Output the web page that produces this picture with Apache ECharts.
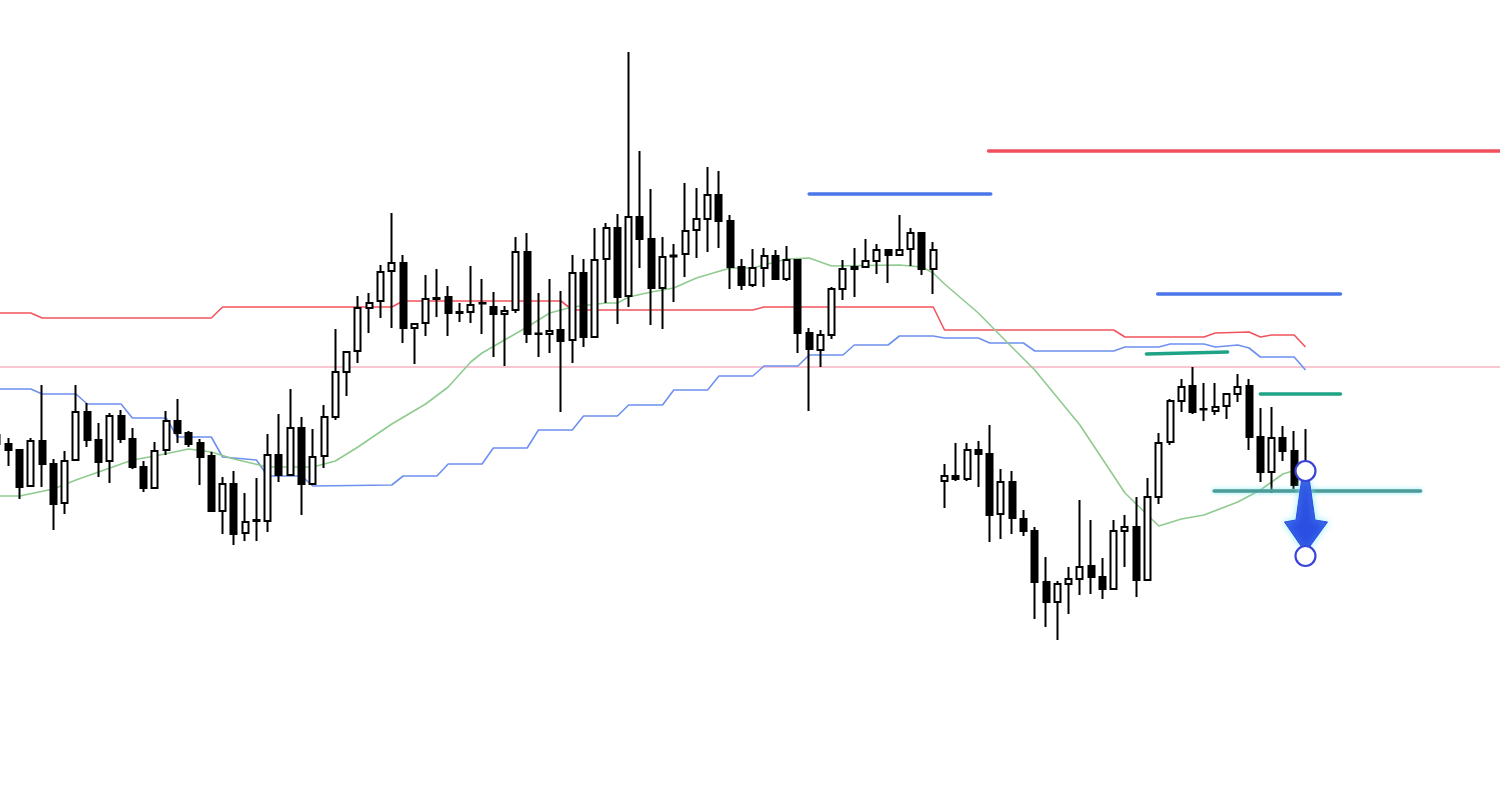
<!DOCTYPE html>
<html><head><meta charset="utf-8">
<script src="https://cdn.jsdelivr.net/npm/echarts/dist/echarts.min.js"></script>
<style>html,body{margin:0;padding:0;background:#fff;}#c{width:1500px;height:805px;}</style>
</head><body><div id="c"></div>
<script>
// category slots (index) – chart extends to the right of the last candle for drawings
const categories = Array.from({length: 134}, (_, i) => 'B' + i);
const opens  = [370,361,355,319,364,341,302,345,393,365,344,389,366,338,317,355,384,372,362,349,294,321,272,284,284,350,330,377,321,349,388,433,454,497,504,534,542,477,482,506,508,492,493,501.5,498,491,495,553,471.5,471,475,465,532,468,546,577,509,588,566,517,549.5,551,575,586,610,584,538,520,537,549,526,545,472,455,470,516,538,538,544,555,550,556,572,536,324,329,326,355,351,291,323,286,274,223,203,221,226,239,228,216,274,278,225,308,363,404,419,396,394,399,411,419,368,333,367,354,331];
const closes = [361,355,318,364,341,301,344,393,365,343,389,366,338,317,354,384,372,361,348,294,321,271,283,285,350,330,377,321,348,388,433,453,497,502,533,542,477,481,506,507,492,493,500,502,491,494,553,471,471,474,464,532,468,545,577,508,588,566,517,548,548.5,574,586,610,584,538,520,537,549,526,545,472,456,470,516,536,536,544,555,550,555,572,536,555,329,326,355,351,290,323,287,274,223,203,221,226,238,228,216,274,278,225,308,362,404,418,393,395.5,398,411,418,368,333,367,354,320,339];
const lows   = [355,339,306,318,318,275,291,345,358,328,322,362,336,313,316,350,362,358,320,293,271,260,264,264,273,323,330,290,321,337,385,409,442,472,487,477,462,441,469,488,469,483,482,471,448,439,492,462,448,452,393,442,458,468,502,481,498,537,480,476,503,528,547,553,557,516,515,518,518,525,524,452,394,438,466,505,508,538,531,522,550,539,530,511,297,324,324,318,263,266,271,269,186,178,165,191,210,211,206,216,238,208,225,301,360,393,391,384,390,386,403,355,323,312,344,316,325];
const highs  = [375,367,355,367,420,346,354,420,402,382,392,395,377,344,363,394,406,374,366,353,328,334,312,327,371,391,416,388,376,400,476,454,509,512,540,592,550,482,530,536,519,502,539,526,513,499,568,572,512,526,514,550,546,577,582,591,753,654,616,568,561,622,617,638,634,590,546,556,557,555,559,546,477,475,518,545,557,566,561,556,590,577,573,563,341,362,362,364,380,336,334,295,278,248,224,238,305,285,247,285,290,308,327,372,406,426,438,422,422,412,431,426,397,398,379,374,376];

// moving average (green), read at candle slots
const maIdx = [0,2,5,7,10,12,14,17,19,21,24,28,30,32,35,38,40,42,43,45,47,49,51,54,55,56,58,60,62,65,67,70,72,74,80,82,83,84,87,89,92,96,100,102,103,105,107,110,112,114,116];
const maVal = [309,309,316,325,337,345,349,356,353,346,338,338,344,358,381,401,418,443,452,465,478,492,498,502,502,508,513,517,527,537,537,546,547,539,540,538,532,521,492,469,435,380,312,290,279,286,290,303,315,331,338];

// upper channel (red)
const redIdx = [0,3,4,19,20,35,36,50,51,67,68,83,84,99,100,107,108,111,112,113,115,116];
const redVal = [492,492,487,487,498,498,504,504,495,495,498,498,475,475,468,468,472,473,468,470,470,458];

// lower channel (blue)
const blueIdx = [0,3,4,7,8,11,12,15,16,19,20,23,24,27,28,35,36,39,40,43,44,47,48,51,52,55,56,59,60,63,64,67,68,71,72,75,76,79,80,83,84,87,88,91,92,99,100,103,104,107,108,110,111,112,115,116];
const blueVal = [416,416,411,411,401,401,387,387,368,368,348,345,329,329,319,320,329,329,341,341,357,357,375,375,389,389,400,400,415,415,429,429,439,439,450,450,460,460,469,469,467,467,462,462,454,454,458,458,461,461,458,460,457,448,448,435];

// horizontal reference level (pink)
const pinkLevel = 438;

// drawn annotations: [startIdx, startVal, endIdx, endVal]
const segBlueHigh  = [72, 611, 88.1, 611];
const segRedHigh   = [87.9, 654, 133.5, 654];
const segBlueMid   = [102.9, 511, 119.1, 511];
const segTealMid   = [112, 411, 119.1, 411];
const segTealSlant = [101.9, 451, 109.1, 453];
const segTealLow   = [107.9, 314, 126.2, 314];
// arrow: [idx, fromVal, toVal]
const arrowData = [[116, 334, 249]];

const candleData = opens.map((o, i) => [o, closes[i], lows[i], highs[i]]);
const pairs = (xs, ys) => xs.map((x, i) => [x, ys[i]]);
const seg = s => [[s[0], s[1]], [s[2], s[3]]];

const BW = 11.28, N = categories.length;
const chart = echarts.init(document.getElementById('c'), null, {renderer: 'canvas'});

function segSeries(s, color, width, glow) {
  return {
    type: 'line', xAxisIndex: 1, data: seg(s), symbol: 'none', silent: true, clip: false,
    lineStyle: Object.assign({color: color, width: width, cap: 'round'},
      glow ? {shadowColor: 'rgba(120,230,240,0.9)', shadowBlur: 4} : {}),
    z: 5
  };
}

chart.setOption({
  animation: false,
  backgroundColor: '#ffffff',
  grid: {left: -3 - BW / 2, top: 0, width: BW * N, height: 805, outerBoundsMode: 'none', containLabel: false},
  xAxis: [
    {type: 'category', data: categories, boundaryGap: true, show: false},
    {type: 'value', min: -0.5, max: N - 0.5, show: false}
  ],
  yAxis: {type: 'value', min: 0, max: 805, show: false, splitLine: {show: false}},
  series: [
    {type: 'line', xAxisIndex: 1, data: [[-0.5, pinkLevel], [N - 0.5, pinkLevel]], symbol: 'none', silent: true,
      lineStyle: {color: '#f7b3c2', width: 1.3}, z: 1},
    {type: 'line', xAxisIndex: 1, data: pairs(redIdx, redVal), symbol: 'none', silent: true,
      lineStyle: {color: '#f2545e', width: 1.6}, z: 2},
    {type: 'line', xAxisIndex: 1, data: pairs(blueIdx, blueVal), symbol: 'none', silent: true,
      lineStyle: {color: '#6e90f0', width: 1.6}, z: 2},
    {type: 'line', xAxisIndex: 1, data: pairs(maIdx, maVal), symbol: 'none', silent: true,
      lineStyle: {color: '#8fcb8f', width: 1.6}, z: 2},
    {type: 'candlestick', xAxisIndex: 0, data: candleData, barWidth: 6.5, z: 3,
      itemStyle: {color: '#ffffff', color0: '#000000', borderColor: '#000000', borderColor0: '#000000', borderWidth: 2}},
    segSeries(segBlueHigh, '#4a76ea', 3.5),
    segSeries(segRedHigh, '#f0505c', 3.5),
    segSeries(segBlueMid, '#4a76ea', 3.5),
    segSeries(segTealMid, '#1fa386', 3.5),
    segSeries(segTealSlant, '#1fa386', 3.5),
    segSeries(segTealLow, '#4e9a98', 3.5, true),
    {
      type: 'custom', xAxisIndex: 1, data: arrowData, z: 10, silent: true,
      renderItem: function (params, api) {
        const p1 = api.coord([api.value(0), api.value(1)]);
        const p2 = api.coord([api.value(0), api.value(2)]);
        const cx = p1[0];
        const yTop = p1[1] + 10, yNeck = p2[1] - 35, yTip = p2[1] - 5;
        const poly = [
          [cx - 4, yTop], [cx + 4, yTop], [cx + 9.5, yNeck - 1], [cx + 22, yNeck + 1],
          [cx + 1, yTip], [cx - 1, yTip], [cx - 21, yNeck + 1], [cx - 9.5, yNeck - 1]
        ];
        const circ = (p) => ({type: 'circle', shape: {cx: p[0], cy: p[1], r: 10},
          style: {fill: '#ffffff', stroke: '#3a44d8', lineWidth: 2.2}});
        return {type: 'group', children: [
          {type: 'polygon', shape: {points: poly},
            style: {fill: '#2b4fe3', stroke: '#2b4fe3', lineWidth: 1, shadowColor: 'rgba(140,235,250,0.9)', shadowBlur: 6}},
          circ(p1), circ(p2)
        ]};
      }
    }
  ]
});
</script>
</body></html>
